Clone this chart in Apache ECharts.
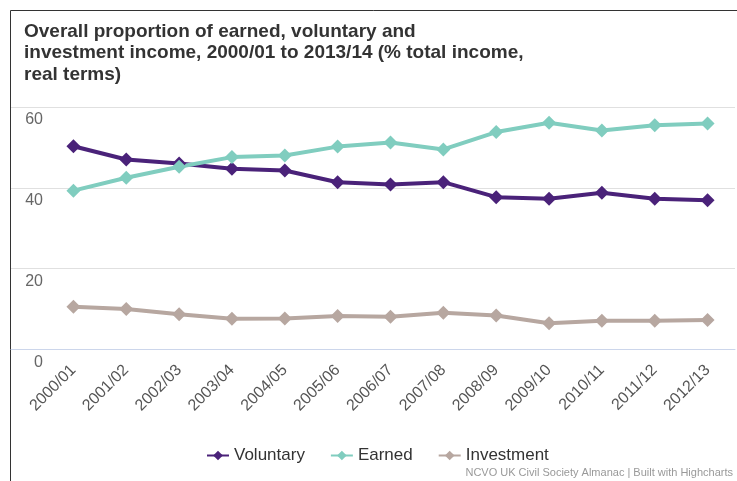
<!DOCTYPE html>
<html>
<head>
<meta charset="utf-8">
<script src="https://cdn.jsdelivr.net/npm/echarts@6/dist/echarts.min.js"></script>
<style>
    html, body { margin: 0; padding: 0; background: #fff; }
    #chart { width: 737px; height: 481px; }
</style>
</head>
<body>
<div id="chart"></div>
<script>
    // data
    const years = ['2000/01', '2001/02', '2002/03', '2003/04', '2004/05', '2005/06', '2006/07',
        '2007/08', '2008/09', '2009/10', '2010/11', '2011/12', '2012/13'];
    const voluntary = [50.3, 47.0, 46.0, 44.7, 44.3, 41.4, 40.8, 41.4, 37.7, 37.3, 38.8, 37.3, 36.9];
    const earned = [39.3, 42.5, 45.2, 47.6, 48.0, 50.2, 51.2, 49.5, 53.8, 56.1, 54.2, 55.5, 55.9];
    const investment = [10.6, 10.0, 8.7, 7.6, 7.7, 8.3, 8.1, 9.1, 8.4, 6.5, 7.1, 7.1, 7.3];
    const yTicks = [0, 20, 40, 60];

    const colors = ['#4a2279', '#80cdbf', '#b7a7a0'];
    const font = 'Liberation Sans, Arial, sans-serif';

    const chart = echarts.init(document.getElementById('chart'));

    function lineSeries(name, data, color) {
        return {
            name: name,
            type: 'line',
            xAxisIndex: 1,
            yAxisIndex: 1,
            data: data,
            symbol: 'diamond',
            symbolSize: 14,
            lineStyle: { width: 4, color: color },
            itemStyle: { color: color },
            emphasis: { disabled: true }
        };
    }

    const option = {
        animation: false,
        color: colors,
        title: [
            {
                text: 'Overall proportion of earned, voluntary and\ninvestment income, 2000/01 to 2013/14 (% total income,\nreal terms)',
                left: 19,
                top: 16,
                textStyle: {
                    fontFamily: font,
                    fontSize: 19,
                    fontWeight: 'bold',
                    color: '#333',
                    lineHeight: 21.5
                }
            },
            {
                text: 'NCVO UK Civil Society Almanac | Built with Highcharts',
                right: -1,
                top: 462,
                textStyle: { fontFamily: font, fontSize: 11, fontWeight: 'normal', color: '#999' }
            }
        ],
        legend: {
            left: 201,
            top: 442,
            itemWidth: 22,
            itemHeight: 12,
            itemGap: 25,
            textStyle: { fontFamily: font, fontSize: 17, color: '#333' },
            data: ['Voluntary', 'Earned', 'Investment']
        },
        grid: [
            // full-width grid: just the gridlines, axis line and y labels
            { left: 11, right: 2, top: 107, bottom: 131.5 },
            // plot grid
            { left: 47, right: 3, top: 107, bottom: 131.5 }
        ],
        xAxis: [
            {
                gridIndex: 0,
                type: 'value',
                min: 0,
                max: 1,
                axisLine: { show: true, lineStyle: { color: '#ccd6eb', width: 1 } },
                axisTick: { show: false },
                axisLabel: { show: false },
                splitLine: { show: false }
            },
            {
                gridIndex: 1,
                type: 'category',
                data: years,
                boundaryGap: true,
                axisLine: { show: false },
                axisTick: { show: false },
                axisLabel: {
                    rotate: 45,
                    margin: 18,
                    interval: 0,
                    fontFamily: font,
                    fontSize: 16,
                    color: '#555'
                }
            }
        ],
        yAxis: [
            {
                gridIndex: 0,
                type: 'value',
                min: 0,
                max: 60,
                interval: 20,
                axisLine: { show: false },
                axisTick: { show: false },
                splitLine: { lineStyle: { color: '#e0e0e0', width: 1 } },
                axisLabel: {
                    inside: true,
                    align: 'right',
                    verticalAlign: 'top',
                    margin: 32,
                    padding: [5, 0, 0, 0],
                    fontFamily: font,
                    fontSize: 16,
                    color: '#666',
                    formatter: function (v) { return yTicks.indexOf(v) >= 0 ? String(v) : ''; }
                }
            },
            {
                gridIndex: 1,
                type: 'value',
                min: 0,
                max: 60,
                interval: 20,
                show: false
            }
        ],
        graphic: [
            // screenshot frame on the top and left edges
            { type: 'line', shape: { x1: 10.5, y1: 10.5, x2: 737, y2: 10.5 }, style: { stroke: '#333', lineWidth: 1 } },
            { type: 'line', shape: { x1: 10.5, y1: 10.5, x2: 10.5, y2: 481 }, style: { stroke: '#333', lineWidth: 1 } }
        ],
        series: [
            lineSeries('Voluntary', voluntary, colors[0]),
            lineSeries('Earned', earned, colors[1]),
            lineSeries('Investment', investment, colors[2])
        ]
    };

    chart.setOption(option);
</script>
</body>
</html>
